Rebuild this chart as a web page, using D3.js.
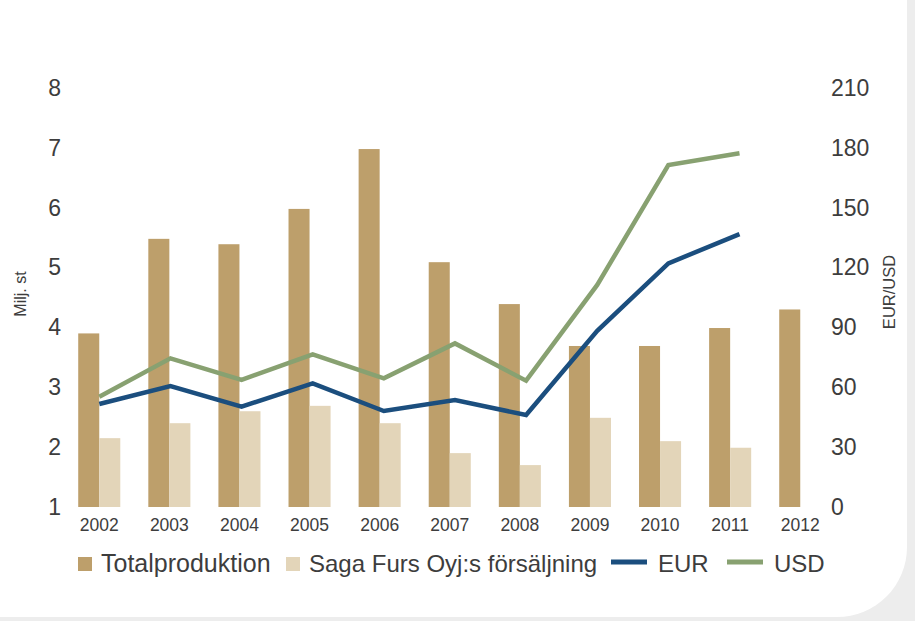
<!DOCTYPE html>
<html>
<head>
<meta charset="utf-8">
<script src="https://cdn.jsdelivr.net/npm/d3@7"></script>
<style>
  body { margin: 0; background: #ededed; }
  svg text { font-family: "Liberation Sans", Arial, sans-serif; fill: #3d3d3d; }
</style>
</head>
<body>
<div id="chart-area"></div>
<script>
var years = ["2002","2003","2004","2005","2006","2007","2008","2009","2010","2011","2012"];
var totalProd = [3.9, 5.48, 5.39, 5.98, 6.98, 5.09, 4.39, 3.69, 3.69, 3.99, 4.3];
var sagaSales = [2.15, 2.4, 2.6, 2.69, 2.4, 1.9, 1.7, 2.49, 2.1, 1.99, null];
var lineYears = ["2002","2003","2004","2005","2006","2007","2008","2009","2010","2011"];
var eurValues = [51.6, 60.6, 50.3, 62.0, 48.1, 53.6, 46.1, 88.3, 122.1, 136.8];
var usdValues = [55.3, 74.5, 63.7, 76.5, 64.5, 82.0, 63.3, 111.3, 171.4, 177.3];
var leftTicks = [1, 2, 3, 4, 5, 6, 7, 8];
var rightTicks = [0, 30, 60, 90, 120, 150, 180, 210];
var seriesNames = ["Totalproduktion", "Saga Furs Oyj:s försäljning", "EUR", "USD"];

var width = 915;
var height = 621;
var colors = { total: "#bd9f6b", saga: "#e3d5b9", eur: "#1b4e7e", usd: "#88a171" };

var svg = d3.select("#chart-area")
	.append("svg")
	.attr("width", width)
	.attr("height", height);

// white card with rounded corner
svg.append("rect")
	.attr("x", -80).attr("y", -80)
	.attr("width", 987).attr("height", 697)
	.attr("rx", 70).attr("ry", 70)
	.attr("fill", "#fff");

var plotTop = 88, plotBottom = 507;

var x = d3.scaleBand()
	.domain(years)
	.range([64.2, 835.3])
	.paddingInner(0.4)
	.paddingOuter(0.2);

var xInner = d3.scaleBand()
	.domain(["total", "saga"])
	.range([0, x.bandwidth()]);

var xLine = d3.scalePoint()
	.domain(lineYears)
	.range([99.3, 739.5]);

var yLeft = d3.scaleLinear()
	.domain([1, 8])
	.range([plotBottom, plotTop]);

var yRight = d3.scaleLinear()
	.domain([0, 210])
	.range([plotBottom, plotTop]);

var g = svg.append("g");

// bars
g.selectAll("rect.total")
	.data(years)
	.enter()
	.append("rect")
		.attr("class", "total")
		.attr("x", (d) => x(d) + xInner("total"))
		.attr("y", (d, i) => yLeft(totalProd[i]))
		.attr("width", xInner.bandwidth())
		.attr("height", (d, i) => plotBottom - yLeft(totalProd[i]))
		.attr("fill", colors.total);

g.selectAll("rect.saga")
	.data(years.filter((d, i) => sagaSales[i] != null))
	.enter()
	.append("rect")
		.attr("class", "saga")
		.attr("x", (d) => x(d) + xInner("saga"))
		.attr("y", (d) => yLeft(sagaSales[years.indexOf(d)]))
		.attr("width", xInner.bandwidth())
		.attr("height", (d) => plotBottom - yLeft(sagaSales[years.indexOf(d)]))
		.attr("fill", colors.saga);

// lines
var line = d3.line()
	.x((d) => xLine(d[0]))
	.y((d) => yRight(d[1]));

g.append("path")
	.datum(lineYears.map((d, i) => [d, usdValues[i]]))
	.attr("d", line)
	.attr("fill", "none")
	.attr("stroke", colors.usd)
	.attr("stroke-width", 4.5);

g.append("path")
	.datum(lineYears.map((d, i) => [d, eurValues[i]]))
	.attr("d", line)
	.attr("fill", "none")
	.attr("stroke", colors.eur)
	.attr("stroke-width", 4.5);

// bottom axis
var bottomAxis = d3.axisBottom(x).tickSize(0).tickPadding(0);
var bx = g.append("g")
	.attr("class", "bottom axis")
	.attr("transform", "translate(0, " + plotBottom + ")")
	.call(bottomAxis);
bx.select(".domain").remove();
bx.selectAll("text")
	.attr("y", 24)
	.attr("dy", 0)
	.attr("font-size", "17.5px")
	.attr("fill", "#3d3d3d");

// left axis
var leftAxis = d3.axisLeft(yLeft)
	.tickValues(leftTicks)
	.tickFormat(d3.format("d"))
	.tickSize(0).tickPadding(0);
var lax = g.append("g")
	.attr("class", "left axis")
	.attr("transform", "translate(61, 0)")
	.call(leftAxis);
lax.select(".domain").remove();
lax.selectAll("text")
	.attr("font-size", "23px")
	.attr("fill", "#3d3d3d");

// right axis
var rightAxis = d3.axisRight(yRight)
	.tickValues(rightTicks)
	.tickFormat(d3.format("d"))
	.tickSize(0).tickPadding(0);
var rax = g.append("g")
	.attr("class", "right axis")
	.attr("transform", "translate(831, 0)")
	.call(rightAxis);
rax.select(".domain").remove();
rax.selectAll("text")
	.attr("font-size", "23px")
	.attr("fill", "#3d3d3d");

svg.selectAll(".axis text").attr("font-family", "Liberation Sans, Arial, sans-serif");

// axis titles
svg.append("text")
	.attr("transform", "translate(26, 294) rotate(-90)")
	.attr("text-anchor", "middle")
	.attr("font-size", "16px")
	.text("Milj. st");

svg.append("text")
	.attr("transform", "translate(895, 292) rotate(-90)")
	.attr("text-anchor", "middle")
	.attr("font-size", "16.5px")
	.text("EUR/USD");

// legend
var legend = svg.append("g").attr("class", "legend");
var legendX = [78, 286, 611, 727];
var kinds = ["square", "square", "line", "line"];
var swatchColors = [colors.total, colors.saga, colors.eur, colors.usd];
seriesNames.forEach((name, i) => {
	var lx0 = legendX[i];
	var textX;
	if (kinds[i] === "square") {
		legend.append("rect")
			.attr("x", lx0).attr("y", 557)
			.attr("width", 14).attr("height", 14)
			.attr("fill", swatchColors[i]);
		textX = lx0 + 23;
	} else {
		legend.append("line")
			.attr("x1", lx0).attr("x2", lx0 + 36)
			.attr("y1", 562).attr("y2", 562)
			.attr("stroke", swatchColors[i])
			.attr("stroke-width", 5);
		textX = lx0 + 47;
	}
	legend.append("text")
		.attr("x", textX)
		.attr("y", 572)
		.attr("font-size", i === 0 ? "25px" : "24px")
		.text(name);
});
</script>
</body>
</html>
